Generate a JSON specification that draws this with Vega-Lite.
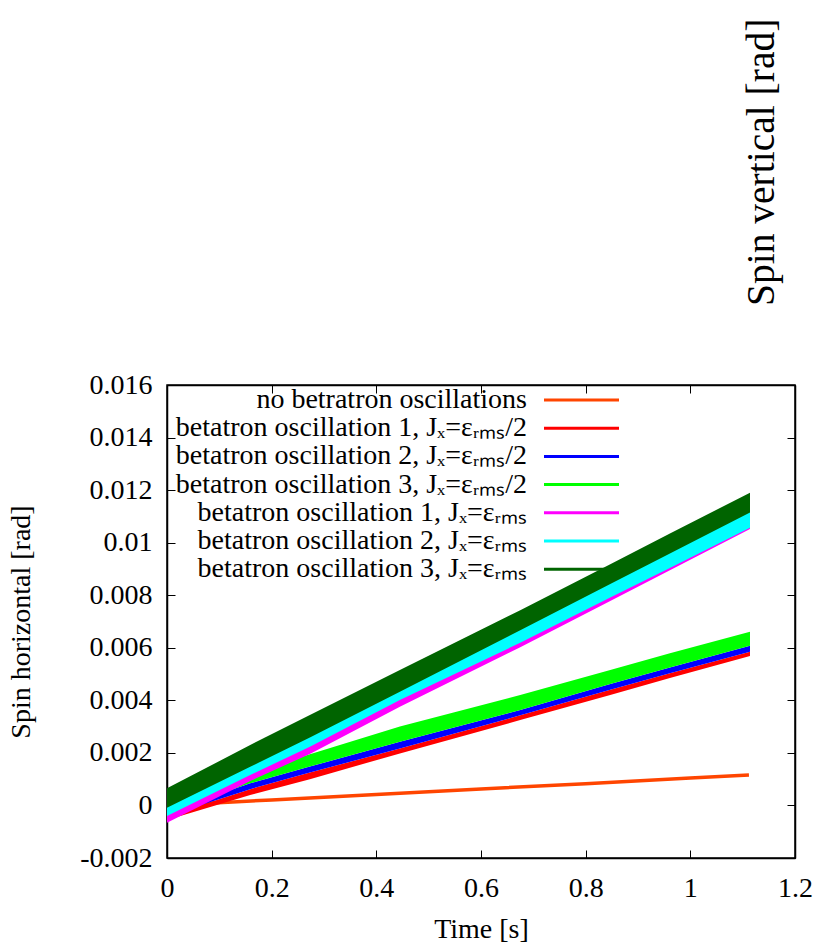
{
  "$schema": "https://vega.github.io/schema/vega-lite/v6.json",
  "width": 628,
  "height": 473,
  "autosize": {"type": "none"},
  "padding": {"left": 167, "top": 385, "right": 20, "bottom": 85},
  "background": "white",
  "title": {
    "text": "Spin vertical [rad]",
    "orient": "top",
    "anchor": "end",
    "frame": "group",
    "angle": -90,
    "align": "right",
    "baseline": "middle",
    "offset": 65,
    "dy": -33,
    "font": "Liberation Serif",
    "fontSize": 39.5,
    "fontWeight": "normal",
    "color": "black"
  },
  "datasets": {
    "spin": [
      {"series": "no betratron oscillations", "t": 0, "lo": 0, "hi": 0},
      {"series": "no betratron oscillations", "t": 0.2, "lo": 0.00021, "hi": 0.00021},
      {"series": "no betratron oscillations", "t": 0.4, "lo": 0.00042, "hi": 0.00042},
      {"series": "no betratron oscillations", "t": 0.6, "lo": 0.00063, "hi": 0.00063},
      {"series": "no betratron oscillations", "t": 0.8, "lo": 0.00083, "hi": 0.00083},
      {"series": "no betratron oscillations", "t": 1.0, "lo": 0.00104, "hi": 0.00104},
      {"series": "no betratron oscillations", "t": 1.112, "lo": 0.00116, "hi": 0.00116},

      {"series": "betatron oscillation 1, J\u2093=\u03b5\u1d63\u2098\u209b/2", "t": 0, "lo": -0.00055, "hi": -0.0004},
      {"series": "betatron oscillation 1, J\u2093=\u03b5\u1d63\u2098\u209b/2", "t": 0.159, "lo": 0.0004, "hi": 0.00062},
      {"series": "betatron oscillation 1, J\u2093=\u03b5\u1d63\u2098\u209b/2", "t": 0.273, "lo": 0.001, "hi": 0.00125},
      {"series": "betatron oscillation 1, J\u2093=\u03b5\u1d63\u2098\u209b/2", "t": 0.445, "lo": 0.00198, "hi": 0.00217},
      {"series": "betatron oscillation 1, J\u2093=\u03b5\u1d63\u2098\u209b/2", "t": 0.675, "lo": 0.00325, "hi": 0.00343},
      {"series": "betatron oscillation 1, J\u2093=\u03b5\u1d63\u2098\u209b/2", "t": 0.847, "lo": 0.0042, "hi": 0.0044},
      {"series": "betatron oscillation 1, J\u2093=\u03b5\u1d63\u2098\u209b/2", "t": 0.961, "lo": 0.00485, "hi": 0.00503},
      {"series": "betatron oscillation 1, J\u2093=\u03b5\u1d63\u2098\u209b/2", "t": 1.114, "lo": 0.00569, "hi": 0.00585},

      {"series": "betatron oscillation 2, J\u2093=\u03b5\u1d63\u2098\u209b/2", "t": 0, "lo": -0.0004, "hi": -0.00025},
      {"series": "betatron oscillation 2, J\u2093=\u03b5\u1d63\u2098\u209b/2", "t": 0.159, "lo": 0.00062, "hi": 0.00084},
      {"series": "betatron oscillation 2, J\u2093=\u03b5\u1d63\u2098\u209b/2", "t": 0.273, "lo": 0.00125, "hi": 0.00148},
      {"series": "betatron oscillation 2, J\u2093=\u03b5\u1d63\u2098\u209b/2", "t": 0.445, "lo": 0.00217, "hi": 0.00242},
      {"series": "betatron oscillation 2, J\u2093=\u03b5\u1d63\u2098\u209b/2", "t": 0.675, "lo": 0.00343, "hi": 0.00363},
      {"series": "betatron oscillation 2, J\u2093=\u03b5\u1d63\u2098\u209b/2", "t": 0.847, "lo": 0.0044, "hi": 0.00462},
      {"series": "betatron oscillation 2, J\u2093=\u03b5\u1d63\u2098\u209b/2", "t": 0.961, "lo": 0.00503, "hi": 0.00525},
      {"series": "betatron oscillation 2, J\u2093=\u03b5\u1d63\u2098\u209b/2", "t": 1.114, "lo": 0.00585, "hi": 0.00608},

      {"series": "betatron oscillation 3, J\u2093=\u03b5\u1d63\u2098\u209b/2", "t": 0, "lo": -0.00025, "hi": 0},
      {"series": "betatron oscillation 3, J\u2093=\u03b5\u1d63\u2098\u209b/2", "t": 0.159, "lo": 0.00084, "hi": 0.00125},
      {"series": "betatron oscillation 3, J\u2093=\u03b5\u1d63\u2098\u209b/2", "t": 0.273, "lo": 0.00148, "hi": 0.00195},
      {"series": "betatron oscillation 3, J\u2093=\u03b5\u1d63\u2098\u209b/2", "t": 0.445, "lo": 0.00242, "hi": 0.003},
      {"series": "betatron oscillation 3, J\u2093=\u03b5\u1d63\u2098\u209b/2", "t": 0.675, "lo": 0.00363, "hi": 0.0042},
      {"series": "betatron oscillation 3, J\u2093=\u03b5\u1d63\u2098\u209b/2", "t": 0.847, "lo": 0.00462, "hi": 0.00515},
      {"series": "betatron oscillation 3, J\u2093=\u03b5\u1d63\u2098\u209b/2", "t": 0.961, "lo": 0.00525, "hi": 0.00579},
      {"series": "betatron oscillation 3, J\u2093=\u03b5\u1d63\u2098\u209b/2", "t": 1.114, "lo": 0.00608, "hi": 0.00661},

      {"series": "betatron oscillation 1, J\u2093=\u03b5\u1d63\u2098\u209b", "t": 0, "lo": -0.00066, "hi": -0.0002},
      {"series": "betatron oscillation 1, J\u2093=\u03b5\u1d63\u2098\u209b", "t": 0.159, "lo": 0.00093, "hi": 0.0013},
      {"series": "betatron oscillation 1, J\u2093=\u03b5\u1d63\u2098\u209b", "t": 0.273, "lo": 0.00196, "hi": 0.0024},
      {"series": "betatron oscillation 1, J\u2093=\u03b5\u1d63\u2098\u209b", "t": 0.445, "lo": 0.00376, "hi": 0.0042},
      {"series": "betatron oscillation 1, J\u2093=\u03b5\u1d63\u2098\u209b", "t": 0.675, "lo": 0.00602, "hi": 0.0064},
      {"series": "betatron oscillation 1, J\u2093=\u03b5\u1d63\u2098\u209b", "t": 0.847, "lo": 0.00778, "hi": 0.0082},
      {"series": "betatron oscillation 1, J\u2093=\u03b5\u1d63\u2098\u209b", "t": 0.961, "lo": 0.00895, "hi": 0.0093},
      {"series": "betatron oscillation 1, J\u2093=\u03b5\u1d63\u2098\u209b", "t": 1.114, "lo": 0.01052, "hi": 0.0109},

      {"series": "betatron oscillation 2, J\u2093=\u03b5\u1d63\u2098\u209b", "t": 0, "lo": -0.0004, "hi": 0},
      {"series": "betatron oscillation 2, J\u2093=\u03b5\u1d63\u2098\u209b", "t": 0.159, "lo": 0.00116, "hi": 0.0016},
      {"series": "betatron oscillation 2, J\u2093=\u03b5\u1d63\u2098\u209b", "t": 0.273, "lo": 0.00223, "hi": 0.0027},
      {"series": "betatron oscillation 2, J\u2093=\u03b5\u1d63\u2098\u209b", "t": 0.445, "lo": 0.00401, "hi": 0.0045},
      {"series": "betatron oscillation 2, J\u2093=\u03b5\u1d63\u2098\u209b", "t": 0.675, "lo": 0.00619, "hi": 0.0068},
      {"series": "betatron oscillation 2, J\u2093=\u03b5\u1d63\u2098\u209b", "t": 0.847, "lo": 0.00791, "hi": 0.0086},
      {"series": "betatron oscillation 2, J\u2093=\u03b5\u1d63\u2098\u209b", "t": 0.961, "lo": 0.00904, "hi": 0.0097},
      {"series": "betatron oscillation 2, J\u2093=\u03b5\u1d63\u2098\u209b", "t": 1.114, "lo": 0.01057, "hi": 0.0112},

      {"series": "betatron oscillation 3, J\u2093=\u03b5\u1d63\u2098\u209b", "t": 0, "lo": -0.00009, "hi": 0.00065},
      {"series": "betatron oscillation 3, J\u2093=\u03b5\u1d63\u2098\u209b", "t": 0.159, "lo": 0.00147, "hi": 0.0023},
      {"series": "betatron oscillation 3, J\u2093=\u03b5\u1d63\u2098\u209b", "t": 0.273, "lo": 0.00259, "hi": 0.00344},
      {"series": "betatron oscillation 3, J\u2093=\u03b5\u1d63\u2098\u209b", "t": 0.445, "lo": 0.00433, "hi": 0.00515},
      {"series": "betatron oscillation 3, J\u2093=\u03b5\u1d63\u2098\u209b", "t": 0.675, "lo": 0.00667, "hi": 0.00743},
      {"series": "betatron oscillation 3, J\u2093=\u03b5\u1d63\u2098\u209b", "t": 0.847, "lo": 0.00843, "hi": 0.00918},
      {"series": "betatron oscillation 3, J\u2093=\u03b5\u1d63\u2098\u209b", "t": 0.961, "lo": 0.00959, "hi": 0.01035},
      {"series": "betatron oscillation 3, J\u2093=\u03b5\u1d63\u2098\u209b", "t": 1.114, "lo": 0.01115, "hi": 0.0119}
    ]
  },
  "data": {"name": "spin"},
  "layer": [
    {
      "transform": [{"filter": "datum.series === 'no betratron oscillations'"}],
      "mark": {"type": "line", "strokeWidth": 3.5, "clip": true},
      "encoding": {
        "x": {
          "field": "t", "type": "quantitative",
          "scale": {"domain": [0, 1.2], "nice": false, "zero": false},
          "axis": {"orient": "top", "labels": false, "title": null, "values": [0, 0.2, 0.4, 0.6, 0.8, 1, 1.2]}
        },
        "y": {
          "field": "lo", "type": "quantitative",
          "scale": {"domain": [-0.002, 0.016], "nice": false, "zero": false},
          "axis": {"orient": "right", "labels": false, "title": null, "values": [-0.002, 0, 0.002, 0.004, 0.006, 0.008, 0.01, 0.012, 0.014, 0.016]}
        },
        "color": {
          "field": "series", "type": "nominal",
          "scale": {
            "domain": [
              "no betratron oscillations",
              "betatron oscillation 1, J\u2093=\u03b5\u1d63\u2098\u209b/2",
              "betatron oscillation 2, J\u2093=\u03b5\u1d63\u2098\u209b/2",
              "betatron oscillation 3, J\u2093=\u03b5\u1d63\u2098\u209b/2",
              "betatron oscillation 1, J\u2093=\u03b5\u1d63\u2098\u209b",
              "betatron oscillation 2, J\u2093=\u03b5\u1d63\u2098\u209b",
              "betatron oscillation 3, J\u2093=\u03b5\u1d63\u2098\u209b"
            ],
            "range": ["#ff4500", "#ff0000", "#0000ff", "#00ff00", "#ff00ff", "#00ffff", "#006400"]
          },
          "legend": {
            "orient": "none",
            "legendX": 400.5,
            "legendY": 1,
            "title": null,
            "padding": 0,
            "symbolType": "M-5,0H5",
            "symbolSize": 225,
            "symbolStrokeWidth": 3,
            "labelAlign": "right",
            "labelOffset": -68.5,
            "labelFont": "Liberation Serif",
            "labelFontSize": 28,
            "labelColor": "black",
            "labelLimit": 0,
            "rowPadding": 0.2,
            "encode": {
              "symbols": {"update": {"stroke": {"scale": "color", "field": "value"}, "strokeWidth": {"value": 3}, "fill": {"value": "transparent"}}}
            }
          }
        }
      }
    },
    {
      "transform": [{"filter": "datum.series !== 'no betratron oscillations'"}],
      "mark": {"type": "area", "opacity": 1, "interpolate": "linear", "clip": true},
      "encoding": {
        "x": {
          "field": "t", "type": "quantitative",
          "axis": {
            "orient": "bottom", "title": "Time [s]", "titlePadding": 13,
            "values": [0, 0.2, 0.4, 0.6, 0.8, 1, 1.2],
            "labelExpr": "'' + round(datum.value * 10) / 10",
            "labelPadding": 24
          }
        },
        "y": {
          "field": "lo", "type": "quantitative",
          "axis": {
            "orient": "left", "title": "Spin horizontal [rad]", "titlePadding": 44,
            "values": [-0.002, 0, 0.002, 0.004, 0.006, 0.008, 0.01, 0.012, 0.014, 0.016],
            "labelExpr": "'' + round(datum.value * 1000) / 1000",
            "labelPadding": 23
          }
        },
        "y2": {"field": "hi"},
        "color": {"field": "series", "type": "nominal"}
      }
    }
  ],
  "resolve": {"axis": {"x": "independent", "y": "independent"}},
  "config": {
    "view": {"stroke": "black", "strokeWidth": 1.5},
    "axis": {
      "labelFont": "Liberation Serif",
      "labelFontSize": 28,
      "labelColor": "black",
      "titleFont": "Liberation Serif",
      "titleFontSize": 28,
      "titleFontWeight": "normal",
      "titleColor": "black",
      "domainColor": "black",
      "domainWidth": 1.5,
      "tickColor": "black",
      "tickWidth": 1,
      "tickSize": -8,
      "grid": false,
      "labelFlush": false,
      "labelOverlap": false
    }
  }
}
